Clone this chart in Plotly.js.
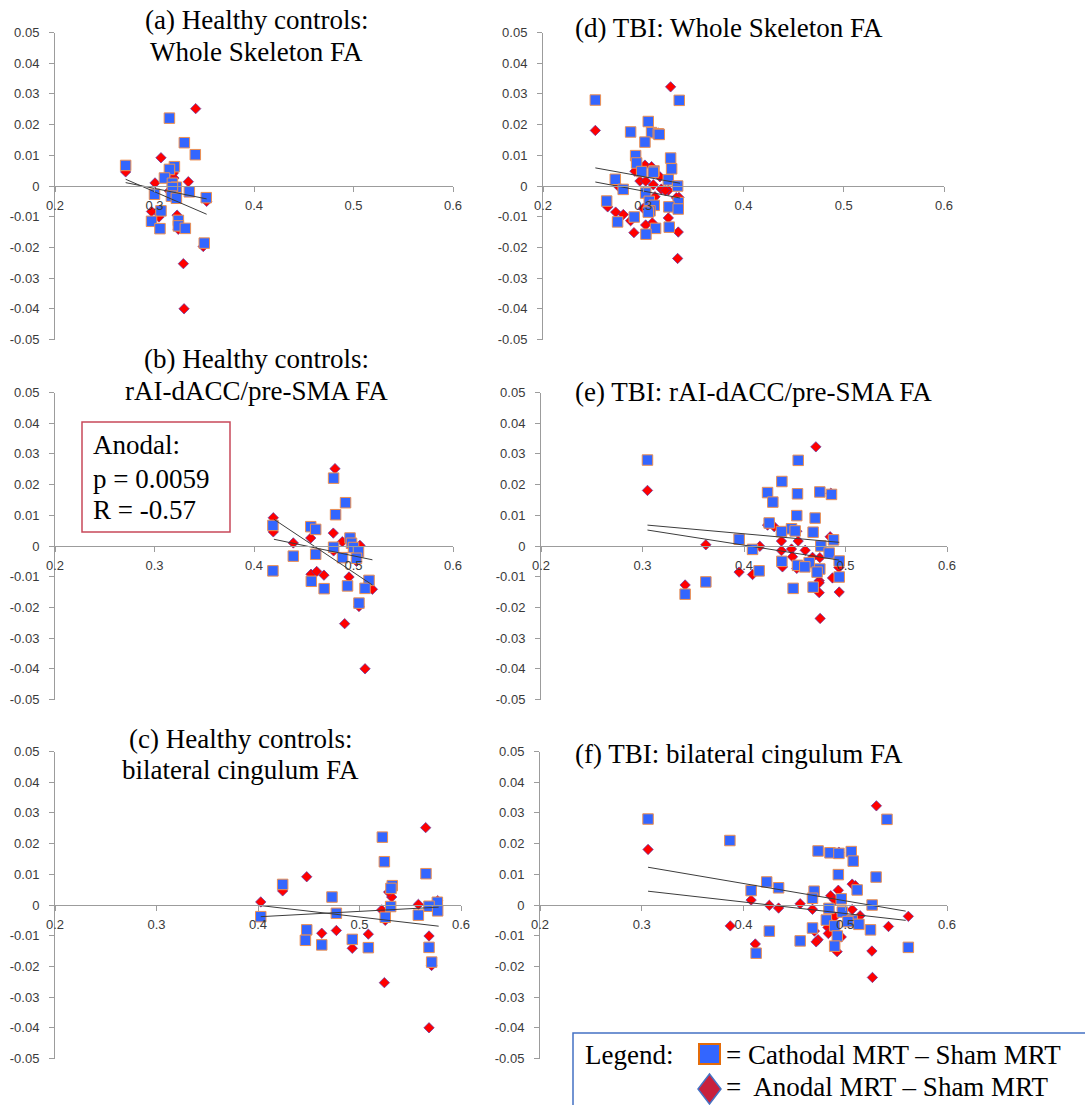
<!DOCTYPE html>
<html>
<head>
<meta charset="utf-8">
<script src="https://cdn.plot.ly/plotly-3.0.1.min.js"></script>
<style>html,body{margin:0;padding:0;background:#fff;}#chart{width:1085px;height:1105px;}</style>
</head>
<body>
<div id="chart"></div>
<script>
// ---------------- DATA ----------------
// Tick labels
const xTickVals = [0.2, 0.3, 0.4, 0.5, 0.6];
const xTickText = ["0.2", "0.3", "0.4", "0.5", "0.6"];
const yTickVals = [0.05, 0.04, 0.03, 0.02, 0.01, 0, -0.01, -0.02, -0.03, -0.04, -0.05];
const yTickText = ["0.05", "0.04", "0.03", "0.02", "0.01", "0", "-0.01", "-0.02", "-0.03", "-0.04", "-0.05"];

// Healthy controls: Cathodal MRT – Sham MRT (y shared across panels a, b, c)
const hcCathY  = [0.0221, 0.0141, 0.0102, 0.0067, 0.0063, 0.0054, 0.0026, 0.0009, -0.0004, -0.0005, -0.0019, -0.0027, -0.0033, -0.0038, -0.0040, -0.0081, -0.0115, -0.0112, -0.0130, -0.0139, -0.0138, -0.0186];
const hcCathXa = [0.315, 0.330, 0.341, 0.271, 0.320, 0.315, 0.310, 0.318, 0.322, 0.318, 0.335, 0.300, 0.317, 0.352, 0.322, 0.3065, 0.297, 0.324, 0.324, 0.3055, 0.331, 0.350];
const hcCathXb = [0.480, 0.492, 0.482, 0.419, 0.457, 0.462, 0.4965, 0.498, 0.480, 0.500, 0.505, 0.462, 0.4395, 0.489, 0.503, 0.419, 0.4576, 0.5156, 0.494, 0.4705, 0.5116, 0.5055];
const hcCathXc = [0.5225, 0.5245, 0.5655, 0.4243, 0.5323, 0.531, 0.4729, 0.5767, 0.5685, 0.5307, 0.577, 0.4772, 0.558, 0.4027, 0.5254, 0.448, 0.4467, 0.4929, 0.4628, 0.5087, 0.5685, 0.5711];

// Healthy controls: Anodal MRT – Sham MRT
const hcAnodY  = [0.0252, 0.0092, 0.0046, 0.0010, 0.0026, 0.0002, -0.0016, 0.0014, -0.0050, -0.0092, -0.0083, -0.0095, -0.0141, -0.0101, -0.0253, -0.0400, -0.0197, 0.0042];
const hcAnodXa = [0.3414, 0.3065, 0.271, 0.3005, 0.3195, 0.318, 0.315, 0.334, 0.3524, 0.3049, 0.297, 0.3227, 0.3239, 0.3045, 0.329, 0.3297, 0.349, 0.319];
const hcAnodXb = [0.4814, 0.4194, 0.4194, 0.4395, 0.457, 0.5065, 0.480, 0.4888, 0.503, 0.4573, 0.463, 0.4703, 0.519, 0.4955, 0.4911, 0.5116, 0.5055, 0.4797];
const hcAnodXc = [0.5652, 0.448, 0.4243, 0.4027, 0.5317, 0.558, 0.5219, 0.577, 0.5254, 0.4628, 0.4772, 0.5087, 0.4929, 0.5685, 0.5245, 0.5685, 0.571, 0.5287];

// TBI: Cathodal MRT – Sham MRT (y shared across panels d, e, f)
const tbiCathY  = [0.0280, 0.0279, 0.0210, 0.0176, 0.0174, 0.0170, 0.0168, 0.0143, 0.0099, 0.0091, 0.0075, 0.0056, 0.0049, 0.0047, 0.0045, 0.0022, 0.0020, 0.0000, -0.0011, -0.0023, -0.0049, -0.0050, -0.0054, -0.0063, -0.0068, -0.0075, -0.0081, -0.0085, -0.0101, -0.0117, -0.0134, -0.0138, -0.0157];
const tbiCathXd = [0.2522, 0.3359, 0.305, 0.2874, 0.3083, 0.315, 0.316, 0.3017, 0.2924, 0.3273, 0.2934, 0.3283, 0.3107, 0.2984, 0.310, 0.2721, 0.325, 0.3343, 0.280, 0.3024, 0.2635, 0.306, 0.3349, 0.311, 0.3256, 0.3349, 0.3067, 0.305, 0.291, 0.2744, 0.3259, 0.3123, 0.3027];
const tbiCathXe = [0.3049, 0.4534, 0.4373, 0.4747, 0.4232, 0.4527, 0.4862, 0.4284, 0.452, 0.4701, 0.4248, 0.4468, 0.4504, 0.4369, 0.4681, 0.3952, 0.4882, 0.4757, 0.4084, 0.4839, 0.4938, 0.4373, 0.4642, 0.4527, 0.4599, 0.4747, 0.4149, 0.472, 0.4938, 0.3624, 0.4681, 0.4484, 0.342];
const tbiCathXf = [0.3062, 0.541, 0.3866, 0.4733, 0.5059, 0.485, 0.4938, 0.5078, 0.4932, 0.5303, 0.4228, 0.4345, 0.5117, 0.4075, 0.4694, 0.4678, 0.4961, 0.5264, 0.484, 0.4971, 0.4814, 0.5068, 0.5026, 0.5134, 0.4896, 0.4678, 0.5248, 0.4254, 0.4922, 0.4557, 0.4896, 0.562, 0.4124];

// TBI: Anodal MRT – Sham MRT
const tbiAnodY  = [0.0323, 0.0181, 0.0172, 0.0068, 0.0063, 0.0048, 0.0030, 0.0016, 0.0016, 0.0004, -0.0001, -0.0010, -0.0014, -0.0015, -0.0035, -0.0037, -0.0038, -0.0068, -0.0070, -0.0073, -0.0085, -0.0093, -0.0104, -0.0113, -0.0120, -0.0127, -0.0150, -0.0152, -0.0236];
const tbiAnodXd = [0.3273, 0.2522, 0.315, 0.3017, 0.3083, 0.2917, 0.3166, 0.2967, 0.3024, 0.310, 0.2751, 0.318, 0.325, 0.322, 0.3117, 0.3356, 0.333, 0.2645, 0.326, 0.300, 0.2725, 0.2801, 0.325, 0.2874, 0.309, 0.3024, 0.3349, 0.2907, 0.3343];
const tbiAnodXe = [0.4708, 0.3049, 0.4856, 0.4232, 0.4297, 0.452, 0.4849, 0.4369, 0.4534, 0.3624, 0.4156, 0.4468, 0.4603, 0.4369, 0.4478, 0.4675, 0.4747, 0.4379, 0.4935, 0.452, 0.3952, 0.4084, 0.4872, 0.4741, 0.4741, 0.342, 0.4938, 0.4741, 0.475];
const tbiAnodXf = [0.5306, 0.3062, 0.4938, 0.5068, 0.510, 0.4932, 0.4857, 0.4075, 0.4896, 0.4557, 0.4254, 0.4345, 0.4678, 0.5068, 0.5146, 0.562, 0.4896, 0.387, 0.5425, 0.483, 0.4697, 0.4834, 0.4961, 0.4733, 0.4714, 0.4116, 0.5262, 0.492, 0.5267];

// Linear trend lines (endpoints)
const trendAx = [0.271, 0.3524],  trendA1 = [0.0022, -0.0092], trendA2 = [0.0011, -0.0042];
const trendBx = [0.420, 0.519],   trendB1 = [0.0087, -0.0127], trendB2 = [0.0022, -0.0045];
const trendCx = [0.4027, 0.578],  trendC1 = [-0.0002, -0.0069], trendC2 = [-0.0038, -0.0007];
const trendDx = [0.2522, 0.3366], trendD1 = [0.0059, 0.0009], trendD2 = [0.0013, -0.0039];
const trendEx = [0.3049, 0.4938], trendE1 = [0.0068, 0.0012], trendE2 = [0.0052, -0.0046];
const trendFx = [0.3062, 0.5594], trendF1 = [0.0123, -0.0020], trendF2 = [0.0045, -0.0050];

// Titles / text
const panelTitles = {
  a: ["(a) Healthy controls:", "Whole Skeleton FA"],
  b: ["(b) Healthy controls:", "rAI-dACC/pre-SMA FA"],
  c: ["(c) Healthy controls:", "bilateral cingulum FA"],
  d: ["(d) TBI: Whole Skeleton FA"],
  e: ["(e) TBI: rAI-dACC/pre-SMA FA"],
  f: ["(f) TBI: bilateral cingulum FA"]
};
const statLines = ["Anodal:", "p = 0.0059", "R = -0.57"];
const legendLabel = "Legend:";
const cathLabel = "= Cathodal MRT \u2013 Sham MRT";
const anodLabel = "=\u00a0 Anodal MRT \u2013 Sham MRT";

// ---------------- LAYOUT ----------------
const W = 1085, H = 1105;
const fx = p => p / W;
const fy = p => 1 - p / H;

// pixel boxes of each plot area
const panels = [
  {k: 'a', xd: [55, 453],  yd: [32.5, 339.5],  cx: hcCathXa, cy: hcCathY, ax: hcAnodXa, ay: hcAnodY, tx: trendAx, t1: trendA1, t2: trendA2},
  {k: 'b', xd: [55, 453],  yd: [392.5, 699.5], cx: hcCathXb, cy: hcCathY, ax: hcAnodXb, ay: hcAnodY, tx: trendBx, t1: trendB1, t2: trendB2},
  {k: 'c', xd: [55, 461],  yd: [751.5, 1058.5],cx: hcCathXc, cy: hcCathY, ax: hcAnodXc, ay: hcAnodY, tx: trendCx, t1: trendC1, t2: trendC2},
  {k: 'd', xd: [543, 944], yd: [32.5, 339.5],  cx: tbiCathXd, cy: tbiCathY, ax: tbiAnodXd, ay: tbiAnodY, tx: trendDx, t1: trendD1, t2: trendD2},
  {k: 'e', xd: [541, 947], yd: [392.5, 699.5], cx: tbiCathXe, cy: tbiCathY, ax: tbiAnodXe, ay: tbiAnodY, tx: trendEx, t1: trendE1, t2: trendE2},
  {k: 'f', xd: [540, 947], yd: [751.5, 1058.5],cx: tbiCathXf, cy: tbiCathY, ax: tbiAnodXf, ay: tbiAnodY, tx: trendFx, t1: trendF1, t2: trendF2}
];

const axisColor = '#9c9c9c';
const tickFont = {family: 'Liberation Sans, Arial, sans-serif', size: 13, color: '#3a3a3a'};
const serif = 'Liberation Serif, Times New Roman, serif';

const traces = [];
const layout = {
  width: W, height: H, autosize: false,
  margin: {l: 0, r: 0, t: 0, b: 0, pad: 0},
  paper_bgcolor: '#ffffff', plot_bgcolor: 'rgba(0,0,0,0)',
  showlegend: false,
  annotations: [], shapes: []
};

panels.forEach((p, i) => {
  const n = i + 1;
  const xs = n === 1 ? '' : String(n);
  const xa = 'x' + xs, ya = 'y' + xs;
  const yMid = (p.yd[0] + p.yd[1]) / 2;
  layout['xaxis' + xs] = {
    domain: [fx(p.xd[0]), fx(p.xd[1])], range: [0.2, 0.6],
    anchor: 'free', position: fy(yMid),
    tickmode: 'array', tickvals: xTickVals, ticktext: xTickText,
    ticks: 'outside', ticklen: 5, tickcolor: axisColor, tickwidth: 1,
    showline: true, linecolor: axisColor, linewidth: 1,
    showgrid: false, zeroline: false, tickfont: tickFont, ticklabelstandoff: 2,
    fixedrange: true
  };
  layout['yaxis' + xs] = {
    domain: [fy(p.yd[1]), fy(p.yd[0])], range: [-0.05, 0.05],
    anchor: xa,
    tickmode: 'array', tickvals: yTickVals, ticktext: yTickText,
    ticks: 'outside', ticklen: 5, tickcolor: axisColor, tickwidth: 1,
    showline: true, linecolor: axisColor, linewidth: 1,
    showgrid: false, zeroline: false, tickfont: tickFont, ticklabelstandoff: 7,
    fixedrange: true
  };
  // anodal diamonds (drawn first)
  traces.push({
    type: 'scatter', mode: 'markers', x: p.ax, y: p.ay, xaxis: xa, yaxis: ya,
    marker: {symbol: 'diamond', size: 8, color: '#ff0000', line: {color: '#5a3aa8', width: 0.7}},
    cliponaxis: false, hoverinfo: 'skip'
  });
  // cathodal squares
  traces.push({
    type: 'scatter', mode: 'markers', x: p.cx, y: p.cy, xaxis: xa, yaxis: ya,
    marker: {symbol: 'square', size: 10.5, color: '#3366ff', line: {color: '#ee9050', width: 1}},
    cliponaxis: false, hoverinfo: 'skip'
  });
  // trend lines
  [p.t1, p.t2].forEach(t => traces.push({
    type: 'scatter', mode: 'lines', x: p.tx, y: t, xaxis: xa, yaxis: ya,
    line: {color: '#3c3c3c', width: 1}, hoverinfo: 'skip'
  }));
});

// Titles
const titleFont = {family: serif, size: 27, color: '#000000'};
function textAt(txt, xpx, ypx, anchor, font) {
  layout.annotations.push({
    text: txt, xref: 'paper', yref: 'paper', x: fx(xpx), y: fy(ypx),
    xanchor: anchor, yanchor: 'middle', showarrow: false, font: font || titleFont
  });
}
textAt(panelTitles.a[0], 256, 20, 'center');
textAt(panelTitles.a[1], 256, 52, 'center');
textAt(panelTitles.b[0], 256, 359, 'center');
textAt(panelTitles.b[1], 256, 391, 'center');
textAt(panelTitles.c[0], 240, 739, 'center');
textAt(panelTitles.c[1], 240, 770, 'center');
textAt(panelTitles.d[0], 573, 28, 'left');
textAt(panelTitles.e[0], 573, 392, 'left');
textAt(panelTitles.f[0], 573, 754, 'left');

// Stats box in panel (b)
layout.shapes.push({type: 'rect', xref: 'paper', yref: 'paper',
  x0: fx(82), x1: fx(230), y0: fy(422), y1: fy(532),
  line: {color: '#c8485a', width: 1.5}, fillcolor: '#ffffff', layer: 'below'});
textAt(statLines[0], 91, 445, 'left');
textAt(statLines[1], 91, 479, 'left');
textAt(statLines[2], 91, 510, 'left');

// Legend box
layout.shapes.push({type: 'rect', xref: 'paper', yref: 'paper',
  x0: fx(573), x1: fx(1100), y0: fy(1033), y1: fy(1120),
  line: {color: '#4472c4', width: 1.5}, fillcolor: '#ffffff', layer: 'above'});
layout.shapes.push({type: 'rect', xref: 'paper', yref: 'paper',
  x0: fx(699), x1: fx(720), y0: fy(1044), y1: fy(1064),
  line: {color: '#e46c0a', width: 2}, fillcolor: '#3366ff', layer: 'above'});
const dcx = 709.5, dcy = 1089;
layout.shapes.push({type: 'path', xref: 'paper', yref: 'paper',
  path: 'M ' + fx(dcx) + ' ' + fy(dcy - 15) + ' L ' + fx(dcx + 11.5) + ' ' + fy(dcy) +
        ' L ' + fx(dcx) + ' ' + fy(dcy + 15) + ' L ' + fx(dcx - 11.5) + ' ' + fy(dcy) + ' Z',
  line: {color: '#4472c4', width: 1.5}, fillcolor: '#c8203c', layer: 'above'});
textAt(legendLabel, 583, 1055, 'left');
textAt(cathLabel, 724, 1055, 'left');
textAt(anodLabel, 724, 1087, 'left');

Plotly.newPlot('chart', traces, layout, {staticPlot: true, displayModeBar: false});
</script>
</body>
</html>
